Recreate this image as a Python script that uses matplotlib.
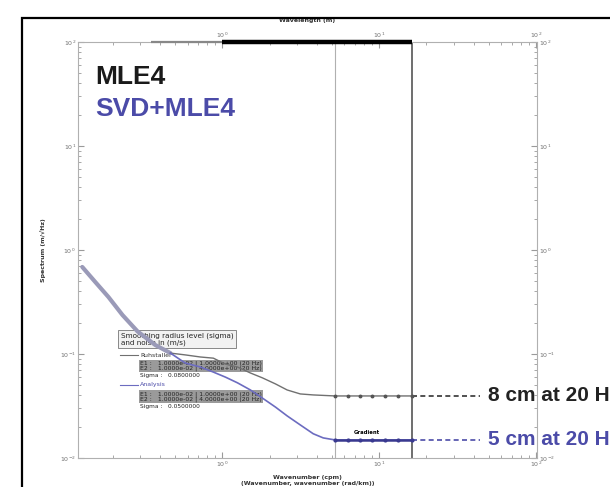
import matplotlib
matplotlib.use("Agg")
import matplotlib.pyplot as plt
from matplotlib.ticker import LogLocator, NullFormatter
from matplotlib.patches import Rectangle

# ---- data ----
x_common = [0.128, 0.155, 0.188, 0.231, 0.288, 0.374, 0.467]
y_common = [0.687, 0.492, 0.353, 0.237, 0.165, 0.122, 0.102]

x_gray = [0.467, 0.581, 0.724, 0.877, 1.045, 1.25, 1.51, 1.80, 2.18, 2.59, 3.14, 3.80,
          5.25, 7.57, 10.9, 16.2]
y_gray = [0.102, 0.098, 0.0936, 0.0912, 0.080, 0.075, 0.0657, 0.059, 0.0516, 0.0451,
          0.0413, 0.0404, 0.0395, 0.0395, 0.0395, 0.0395]

x_blue = [0.467, 0.581, 0.724, 0.877, 1.045, 1.25, 1.51, 1.80, 2.18, 2.59, 3.14, 3.80,
          4.40, 5.25, 7.57, 10.9, 16.2]
y_blue = [0.102, 0.0817, 0.075, 0.067, 0.060, 0.0528, 0.0451, 0.0377, 0.0309, 0.0254,
          0.0208, 0.0171, 0.0156, 0.0149, 0.0149, 0.0149, 0.0149]

x_flat_markers = [5.25, 6.3, 7.57, 9.0, 10.9, 13.2, 16.2]
vline_thin = 5.25
vline_thick = 16.2
dash_end = 44.0
label_x = 49.4
label_gray = "8 cm at 20 Hz"
label_blue = "5 cm at 20 Hz"
title1 = "MLE4"
title2 = "SVD+MLE4"

BLUE = "#4b4ba8"
CURVE_BLUE = "#6c6cc0"
CURVE_GRAY = "#707070"

fig = plt.figure(figsize=(6.10, 4.87), dpi=100)
fig.patch.set_facecolor("white")

# outer slide frame
fig.patches.append(Rectangle((22 / 610, -0.05), 1.0, 1 - 18 / 487 + 0.05,
                             transform=fig.transFigure, fill=False,
                             edgecolor="black", linewidth=1.6))

ax = fig.add_axes([78 / 610, 1 - 458 / 487, (537 - 78) / 610, (458 - 42) / 487])
ax.set_xscale("log")
ax.set_yscale("log")
ax.set_xlim(10 ** -0.92, 10 ** 2.006)
ax.set_ylim(1e-2, 1e2)
for s in ax.spines.values():
    s.set_color("#b0b0b0")
    s.set_linewidth(0.8)

ax.xaxis.set_major_locator(LogLocator(base=10, numticks=10))
ax.yaxis.set_major_locator(LogLocator(base=10, numticks=10))
ax.xaxis.set_minor_locator(LogLocator(base=10, subs=range(2, 10), numticks=20))
ax.yaxis.set_minor_locator(LogLocator(base=10, subs=range(2, 10), numticks=20))
ax.xaxis.set_minor_formatter(NullFormatter())
ax.yaxis.set_minor_formatter(NullFormatter())
ax.tick_params(which="both", direction="in", top=True, right=True,
               labeltop=True, labelright=True, colors="#9a9a9a",
               labelsize=4.5, labelcolor="#707070")
ax.tick_params(which="major", length=4, width=0.8, pad=1.5)
ax.tick_params(which="minor", length=2.5, width=0.6)

ax.set_xlabel("Wavenumber (cpm)\n(Wavenumber, wavenumber (rad/km))",
              fontsize=4.5, color="#333333", labelpad=4, fontweight="bold")
ax.set_ylabel("Spectrum (m/\u221aHz)", fontsize=4.5, color="#333333",
              labelpad=10, fontweight="bold")
ax.text(0.5, 1.045, "Wavelength (m)", transform=ax.transAxes, ha="center",
        va="bottom", fontsize=4.5, color="#333333", fontweight="bold")

# top thick bar
ax.plot([1.0, vline_thick], [100, 100], color="black", lw=3.2, clip_on=False,
        solid_capstyle="butt", zorder=5)
ax.plot([0.35, 1.0], [100, 100], color="#888888", lw=1.6, clip_on=False,
        solid_capstyle="butt", zorder=5)

# vertical lines
ax.axvline(vline_thin, color="#b0b0b0", lw=0.8)
ax.axvline(vline_thick, color="#555555", lw=1.2)

# curves (drawn over the legend block, as in the reference)
ax.plot(x_common, y_common, color="#9a9ab8", lw=3.0, solid_capstyle="round", zorder=7)
ax.plot(x_gray, y_gray, color=CURVE_GRAY, lw=1.0, zorder=7)
ax.plot(x_blue, y_blue, color=CURVE_BLUE, lw=1.2, zorder=7)
ax.plot(x_flat_markers, [y_gray[-1]] * len(x_flat_markers), ls="none", marker="o",
        ms=1.8, color="#555555", zorder=8)
ax.plot(x_flat_markers, [y_blue[-1]] * len(x_flat_markers), ls="none", marker="o",
        ms=2.0, color="#3a3a90", zorder=8)
ax.plot([vline_thin, vline_thick], [y_blue[-1]] * 2, color="#3a3a90", lw=1.8, zorder=8)
ax.text(6.9, y_blue[-1] * 1.12, "Gradient", fontsize=3.8, color="black",
        fontweight="bold", ha="left", va="bottom")

# dashed extensions and annotations
ax.plot([vline_thick, dash_end], [y_gray[-1]] * 2, color="#333333", lw=1.2,
        ls=(0, (3, 2)), clip_on=False)
ax.plot([vline_thick, dash_end], [y_blue[-1]] * 2, color=BLUE, lw=1.2,
        ls=(0, (3, 2)), clip_on=False)
ax.text(label_x, y_gray[-1], label_gray, fontsize=15, fontweight="bold",
        color="#222222", va="center", ha="left", clip_on=False,
        family="Liberation Sans")
ax.text(label_x, y_blue[-1], label_blue, fontsize=15, fontweight="bold",
        color=BLUE, va="center", ha="left", clip_on=False,
        family="Liberation Sans")

# titles
ax.text(0.037, 0.915, title1, transform=ax.transAxes, fontsize=19,
        fontweight="bold", color="#1a1a1a", family="Liberation Sans", va="center")
ax.text(0.037, 0.84, title2, transform=ax.transAxes, fontsize=19,
        fontweight="bold", color=BLUE, family="Liberation Sans", va="center")

# legend-like annotation
ax.text(0.225, 0.139, "Smoothing radius level (sigma)\nand noise in (m/s)",
        fontsize=5.2, color="#222222", ha="left", va="center", linespacing=1.1,
        bbox=dict(boxstyle="square,pad=0.35", fc="#f2f2f2", ec="#888888", lw=0.7),
        zorder=6)
ax.plot([0.222, 0.288], [0.0978, 0.0978], color=CURVE_GRAY, lw=0.8, zorder=6)
ax.text(0.30, 0.0978, "Ruhstaller", fontsize=4.5, color="#333333", va="center", zorder=6)
ax.text(0.30, 0.0767, "E1 :   1.0000e-02 | 1.0000e+00 (20 Hz)\nE2 :   1.0000e-02 | 4.0000e+00 (20 Hz)",
        fontsize=4.4, color="#222222", va="center", zorder=6, linespacing=1.0,
        bbox=dict(boxstyle="square,pad=0.15", fc="#9a9a9a", ec="none"))
ax.text(0.30, 0.0628, "Sigma :   0.0800000", fontsize=4.2, color="#222222",
        va="center", zorder=6)
ax.plot([0.222, 0.288], [0.0504, 0.0504], color=CURVE_BLUE, lw=0.8, zorder=6)
ax.text(0.30, 0.0504, "Analysis", fontsize=4.5, color=BLUE, va="center", zorder=6)
ax.text(0.30, 0.0387, "E1 :   1.0000e-02 | 1.0000e+00 (20 Hz)\nE2 :   1.0000e-02 | 4.0000e+00 (20 Hz)",
        fontsize=4.4, color="#222222", va="center", zorder=6, linespacing=1.0,
        bbox=dict(boxstyle="square,pad=0.15", fc="#9a9a9a", ec="none"))
ax.text(0.30, 0.0316, "Sigma :   0.0500000", fontsize=4.2, color="#222222",
        va="center", zorder=6)

fig.savefig("out.png", dpi=100)
